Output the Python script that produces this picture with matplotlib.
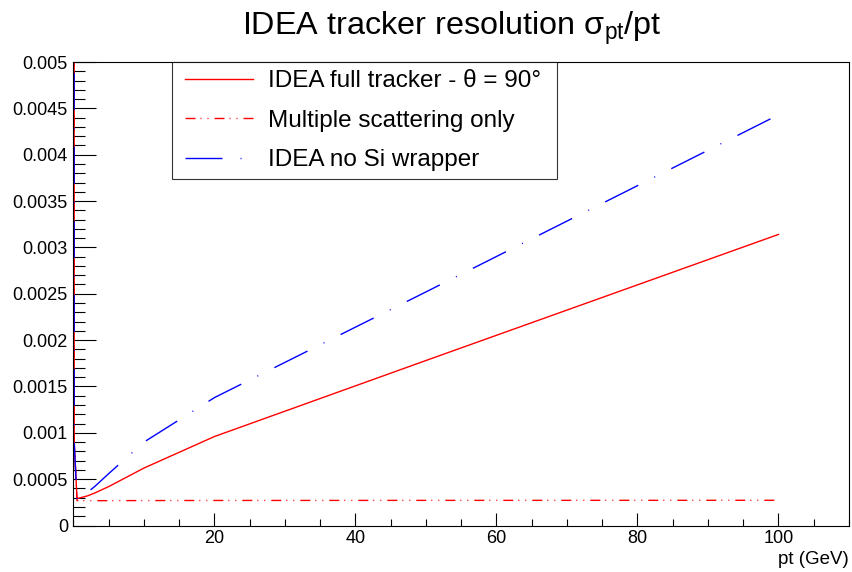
import matplotlib
matplotlib.use("Agg")
import matplotlib.pyplot as plt
from matplotlib.ticker import MultipleLocator, FuncFormatter, FixedLocator
from matplotlib.legend_handler import HandlerLine2D

plt.rcParams['font.family'] = ['Liberation Sans', 'DejaVu Sans']
plt.rcParams['mathtext.fontset'] = 'custom'
plt.rcParams['mathtext.rm'] = 'Liberation Sans'

# ---- data ----
pt = [0.02, 0.1, 0.5, 1, 2, 3, 5, 10, 20, 50, 100]
full_tracker = [0.03, 0.0009, 0.00029, 0.00030, 0.00032, 0.00035, 0.00042, 0.00062, 0.00096, 0.00178, 0.00314]
mult_scatt = [0.03, 0.0009, 0.000268, 0.000268, 0.000268, 0.000268, 0.000268, 0.000269, 0.000270, 0.000271, 0.000272]
no_si_wrapper = [0.03, 0.0009, 0.000275, 0.00030, 0.00036, 0.00042, 0.00056, 0.00090, 0.00138, 0.00252, 0.00443]

labels = ["IDEA full tracker - θ = 90°", "Multiple scattering only", "IDEA no Si wrapper"]
title = "IDEA tracker resolution $\\mathregular{σ_{pt}}$/pt"
xlabel = "pt (GeV)"
xmajor = [20, 40, 60, 80, 100]

W, H = 853, 572
fig = plt.figure(figsize=(W / 100, H / 100), dpi=100)
L, R, B, T = 73.5, 849, 525.5, 62
ax = fig.add_axes([L / W, 1 - B / H, (R - L) / W, (B - T) / H])

px = 0.72
ax.plot(pt, full_tracker, color='#ff0000', lw=1.0, label=labels[0])
ax.plot(pt, mult_scatt, color='#ff0000', lw=1.0,
        dashes=(10 * px, 5 * px, 1 * px, 6 * px, 1 * px, 6 * px), label=labels[1])
ax.plot(pt, no_si_wrapper, color='#0000ff', lw=1.0,
        dashes=(37 * px, 18 * px, 1 * px, 18 * px), label=labels[2])

ax.set_xlim(0, 110)
ax.set_ylim(0, 0.005)

ax.xaxis.set_major_locator(FixedLocator(xmajor))
ax.xaxis.set_minor_locator(MultipleLocator(5))
ax.yaxis.set_major_locator(MultipleLocator(0.0005))
ax.yaxis.set_minor_locator(MultipleLocator(0.0001))
ax.yaxis.set_major_formatter(FuncFormatter(lambda v, p: "%g" % round(v, 6)))
ax.xaxis.set_major_formatter(FuncFormatter(lambda v, p: "%g" % v))

ax.tick_params(axis='both', which='both', direction='in', top=False, right=False,
               colors='black', width=0.8, labelsize=13)
ax.tick_params(axis='y', which='major', length=16.5, pad=4)
ax.tick_params(axis='y', which='minor', length=8.5)
ax.tick_params(axis='x', which='major', length=9.5, pad=3.2)
ax.tick_params(axis='x', which='minor', length=4.7)
for s in ax.spines.values():
    s.set_linewidth(0.8)
    s.set_color('black')

ax.set_xlabel(xlabel, loc='right', fontsize=13.5)
ax.xaxis.set_label_coords(1.0, -(551.5 - B) / (B - T))

fig.text(451.7 / W, 1 - 35 / H, title, ha='center', va='baseline', fontsize=23.3)


class ShiftedLine(HandlerLine2D):
    shift = 5 * px

    def create_artists(self, legend, orig_handle, xdescent, ydescent, width, height, fontsize, trans):
        return super().create_artists(legend, orig_handle, xdescent - self.shift, ydescent,
                                      width - self.shift, height, fontsize, trans)


x0 = (171.7 - L) / (R - L)
x1 = (556.7 - L) / (R - L)
y1 = 1.0
y0 = 1 - (177.3 - T) / (B - T)
handles = ax.get_lines()
leg = ax.legend(handles=handles, labels=labels,
                handler_map={h: ShiftedLine() for h in handles},
                loc='upper left', bbox_to_anchor=(x0, y0, x1 - x0, y1 - y0), mode='expand',
                fontsize=17.5, frameon=True, fancybox=False, shadow=False,
                borderpad=0.33, labelspacing=0.72, handlelength=3.0, handletextpad=0.62,
                borderaxespad=0)
leg.get_frame().set_edgecolor('black')
leg.get_frame().set_linewidth(0.8)

fig.savefig("out.png", dpi=100)
